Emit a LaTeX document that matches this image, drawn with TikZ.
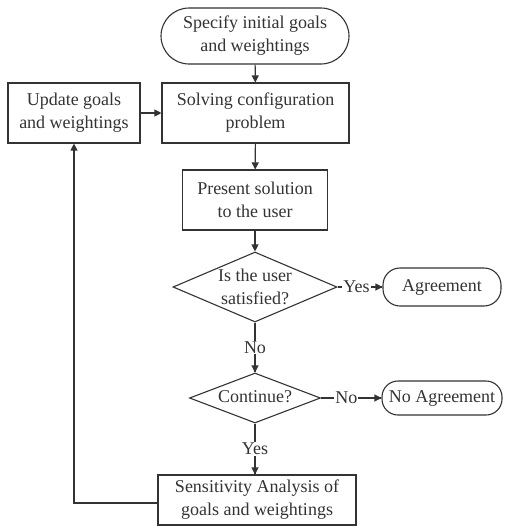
\documentclass[tikz,border=0pt]{standalone}
\usepackage{fontspec}
\setmainfont{Liberation Serif}
\usetikzlibrary{shapes.geometric,arrows.meta}
\begin{document}
\begin{tikzpicture}[x=1pt,y=-1pt,
  every node/.style={font=\fontsize{18}{23}\selectfont, text=black!80, align=center},
  box/.style={draw=black!80, line width=1.1pt, inner sep=0pt},
  term/.style={box, rounded corners=14pt},
  dec/.style={draw=black!80, line width=1.1pt, diamond, aspect=2.4, inner sep=0pt},
  lab/.style={inner sep=1pt, fill=white},
  flow/.style={draw=black!80, line width=1.1pt, -{Triangle[length=7pt,width=7pt]}},
  plain/.style={draw=black!80, line width=1.1pt}]
\useasboundingbox (0,0) rectangle (505,528);
% start, solver and update boxes
\node[term, minimum width=188pt, minimum height=56pt, rounded corners=28pt] (spec) at (255,36) {Specify initial goals\\and weightings};
\node[box, minimum width=187pt, minimum height=60pt] (solve) at (255.5,113) {Solving configuration\\problem};
\node[box, minimum width=132pt, minimum height=60pt] (upd) at (74,113) {Update goals\\and weightings};
\node[box, minimum width=145pt, minimum height=60pt] (pres) at (255,200) {Present solution\\to the user};
% decisions and outcomes
\node[dec, minimum width=164pt, minimum height=70pt] (sat) at (255,287) {};
\node at (255,287) {Is the user\\satisfied?};
\node[term, minimum width=118pt, minimum height=38pt, rounded corners=17pt] (agr) at (442,287) {Agreement};
\node[dec, minimum width=131pt, minimum height=50pt] (cont) at (255,398) {};
\node at (255,397) {Continue?};
\node[term, minimum width=120pt, minimum height=34pt, rounded corners=16pt] (noagr) at (442,398) {No Agreement};
\node[box, minimum width=198pt, minimum height=50pt] (sens) at (257,500) {Sensitivity Analysis of\\goals and weightings};
\coordinate (corner) at (74,503);
% connectors
\draw[flow] (spec) -- (solve);
\draw[flow] (upd) -- (solve);
\draw[flow] (solve) -- (pres);
\draw[flow] (pres) -- (sat);
\draw[plain] (sat.east) -- node[lab, pos=0.42] (yes1) {Yes} (agr.west);
\draw[flow] (yes1.east) -- (agr.west);
\draw[plain] (sat.south) -- node[lab, pos=0.5] (no1) {No} (cont.north);
\draw[flow] (no1.south) -- (cont.north);
\draw[plain] (cont.east) -- node[lab, pos=0.42] (no2) {No} (noagr.west);
\draw[flow] (no2.east) -- (noagr.west);
\draw[plain] (cont.south) -- node[lab] (yes2) {Yes} (sens.north -| cont.south);
\draw[flow] (yes2.south) -- (sens.north -| cont.south);
\draw[flow] (sens.west |- corner) -- (corner) -- (upd.south);
\end{tikzpicture}
\end{document}
